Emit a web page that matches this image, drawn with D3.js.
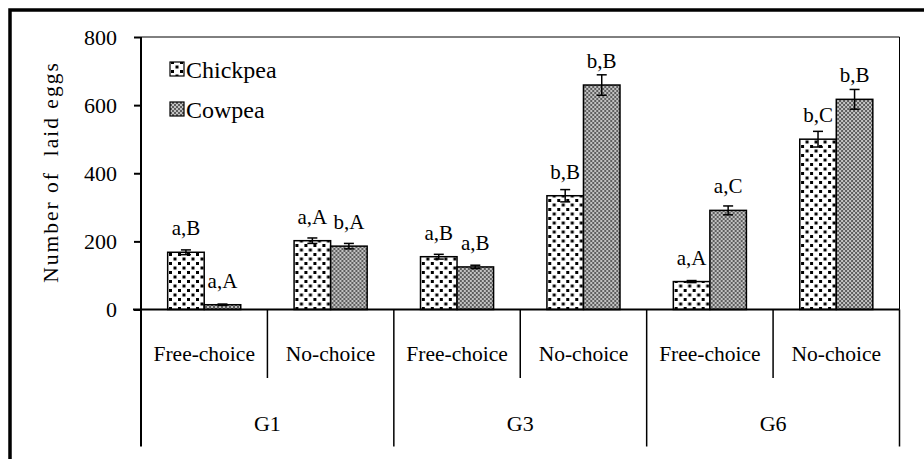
<!DOCTYPE html>
<html lang="en">
<head>
    <meta charset="UTF-8">
    <title>Number of laid eggs</title>
    <script src="https://d3js.org/d3.v7.min.js"></script>
    <style>
        body {
            margin: 0;
            background: #fff;
        }
        svg text {
            fill: #000;
            font-family: "Liberation Serif", "Tinos", "Times New Roman", "DejaVu Serif", serif;
        }
        .tick line {
            stroke: #000;
            stroke-width: 2px;
        }
        .y-axis .domain {
            display: none;
        }
    </style>
</head>
<body>
    <svg id="chart" width="924" height="459" font-family="Liberation Serif, serif"></svg>

    <script>
        // data
        const groups = ["G1", "G3", "G6"];
        const conditions = ["Free-choice", "No-choice"];
        const seriesNames = ["Chickpea", "Cowpea"];

        const chickpea = [168, 202, 155, 334, 82, 500];
        const cowpea = [14, 186, 125, 659, 291, 617];
        const chickpeaErr = [7, 8, 7, 18, 3, 23];
        const cowpeaErr = [2, 8, 5, 30, 13, 29];
        const chickpeaLabels = ["a,B", "a,A", "a,B", "b,B", "a,A", "b,C"];
        const cowpeaLabels = ["a,A", "b,A", "a,B", "b,B", "a,C", "b,B"];
        const yTicks = [0, 200, 400, 600, 800];

        const plot = {left: 141, right: 899.5, top: 37, bottom: 309.5};
        const subBottom = 378, groupBottom = 446.5;

        const svg = d3.select("#chart");

        // patterns
        const defs = svg.append("defs");
        const pChick = defs.append("pattern")
            .attr("id", "pat-chickpea")
            .attr("patternUnits", "userSpaceOnUse")
            .attr("width", 9).attr("height", 9);
        pChick.append("rect").attr("width", 9).attr("height", 9).attr("fill", "#fff");
        pChick.append("rect").attr("x", 1).attr("y", 1).attr("width", 3).attr("height", 3).attr("fill", "#000");
        pChick.append("rect").attr("x", 5.5).attr("y", 5.5).attr("width", 3).attr("height", 3).attr("fill", "#000");

        const pCow = defs.append("pattern")
            .attr("id", "pat-cowpea")
            .attr("patternUnits", "userSpaceOnUse")
            .attr("width", 4).attr("height", 4);
        pCow.append("rect").attr("width", 4).attr("height", 4).attr("fill", "#5e5e5e");
        pCow.append("rect").attr("x", 0).attr("y", 0).attr("width", 2).attr("height", 2).attr("fill", "#c2c2c2");
        pCow.append("rect").attr("x", 2).attr("y", 2).attr("width", 2).attr("height", 2).attr("fill", "#c2c2c2");

        const fills = ["url(#pat-chickpea)", "url(#pat-cowpea)"];

        // outer frame (only top and left show in the picture)
        svg.append("rect")
            .attr("x", 10).attr("y", 10)
            .attr("width", 940).attr("height", 480)
            .attr("fill", "none")
            .attr("stroke", "#000")
            .attr("stroke-width", 3.5);

        // scales
        const cats = [];
        groups.forEach(g => conditions.forEach(c => cats.push(g + "|" + c)));

        const x0 = d3.scaleBand()
            .domain(cats)
            .range([plot.left, plot.right]);

        const xg = d3.scaleBand()
            .domain(groups)
            .range([plot.left, plot.right]);

        const x1 = d3.scaleBand()
            .domain(seriesNames)
            .range([0, x0.bandwidth()])
            .paddingInner(0)
            .paddingOuter(0.73);

        const y = d3.scaleLinear()
            .domain([0, 800])
            .range([plot.bottom, plot.top]);

        // plot area border (top and right)
        svg.append("path")
            .attr("d", `M${plot.left},${plot.top}H${plot.right}V${plot.bottom}`)
            .attr("fill", "none")
            .attr("stroke", "#000")
            .attr("stroke-width", 1);

        // y axis
        svg.append("g")
            .attr("class", "y-axis")
            .attr("transform", `translate(${plot.left},0)`)
            .call(d3.axisLeft(y).tickValues(yTicks).tickSize(7).tickPadding(17))
            .attr("font-family", null)
            .call(g => g.selectAll(".tick text")
                .style("font-size", "22px"));

        // bars
        const rows = cats.map((c, i) => ({
            cat: c,
            items: [
                {name: seriesNames[0], v: chickpea[i], e: chickpeaErr[i], lab: chickpeaLabels[i], k: 0},
                {name: seriesNames[1], v: cowpea[i], e: cowpeaErr[i], lab: cowpeaLabels[i], k: 1}
            ]
        }));

        const cg = svg.selectAll(".cat")
            .data(rows)
            .enter()
            .append("g")
            .attr("class", "cat")
            .attr("transform", d => `translate(${x0(d.cat)},0)`);

        cg.selectAll("rect")
            .data(d => d.items)
            .enter()
            .append("rect")
            .attr("x", d => x1(d.name))
            .attr("y", d => y(d.v))
            .attr("width", x1.bandwidth())
            .attr("height", d => y(0) - y(d.v))
            .attr("fill", d => fills[d.k])
            .attr("stroke", "#000")
            .attr("stroke-width", 1.5);

        // error bars
        const eb = cg.selectAll(".err")
            .data(d => d.items)
            .enter()
            .append("g")
            .attr("class", "err")
            .attr("stroke", "#000")
            .attr("stroke-width", 1.5);

        const cx = d => x1(d.name) + x1.bandwidth() / 2;
        eb.append("line")
            .attr("x1", cx).attr("x2", cx)
            .attr("y1", d => y(d.v + d.e)).attr("y2", d => y(d.v - d.e));
        eb.append("line")
            .attr("x1", d => cx(d) - 5).attr("x2", d => cx(d) + 5)
            .attr("y1", d => y(d.v + d.e)).attr("y2", d => y(d.v + d.e));
        eb.append("line")
            .attr("x1", d => cx(d) - 5).attr("x2", d => cx(d) + 5)
            .attr("y1", d => y(d.v - d.e)).attr("y2", d => y(d.v - d.e));

        // letters above bars
        cg.selectAll(".lab")
            .data(d => d.items)
            .enter()
            .append("text")
            .attr("class", "lab")
            .attr("x", cx)
            .attr("y", d => y(d.v) - 17)
            .attr("text-anchor", "middle")
            .style("font-size", "21px")
            .text(d => d.lab);

        // x axis line
        svg.append("line")
            .attr("x1", plot.left - 8).attr("x2", plot.right)
            .attr("y1", plot.bottom).attr("y2", plot.bottom)
            .attr("stroke", "#000")
            .attr("stroke-width", 2);

        // category dividers
        const subLines = cats.filter((c, i) => i % 2 === 1).map(c => x0(c));
        svg.selectAll(".sub-line")
            .data(subLines)
            .enter()
            .append("line")
            .attr("x1", d => d).attr("x2", d => d)
            .attr("y1", plot.bottom).attr("y2", subBottom)
            .attr("stroke", "#000")
            .attr("stroke-width", 1.5);

        const groupLines = groups.map(g => xg(g)).concat([plot.right]);
        svg.selectAll(".group-line")
            .data(groupLines)
            .enter()
            .append("line")
            .attr("x1", d => d).attr("x2", d => d)
            .attr("y1", (d, i) => i === 0 ? plot.top : plot.bottom)
            .attr("y2", groupBottom)
            .attr("stroke", "#000")
            .attr("stroke-width", (d, i) => i === 0 ? 2 : 1.5);

        // category labels
        svg.selectAll(".cond-label")
            .data(cats)
            .enter()
            .append("text")
            .attr("x", d => x0(d) + x0.bandwidth() / 2)
            .attr("y", 361)
            .attr("text-anchor", "middle")
            .style("font-size", "21.5px")
            .text(d => d.split("|")[1]);

        svg.selectAll(".group-label")
            .data(groups)
            .enter()
            .append("text")
            .attr("x", d => xg(d) + xg.bandwidth() / 2)
            .attr("y", 431)
            .attr("text-anchor", "middle")
            .style("font-size", "22px")
            .text(d => d);

        // y axis title
        svg.append("text")
            .attr("transform", "translate(58,172) rotate(-90)")
            .attr("text-anchor", "middle")
            .style("font-size", "21.5px")
            .style("letter-spacing", "2px")
            .style("white-space", "pre")
            .text("Number of  laid eggs");

        // legend
        const leg = svg.selectAll(".legend")
            .data(seriesNames)
            .enter()
            .append("g")
            .attr("class", "legend")
            .attr("transform", (d, i) => `translate(170,${78 + i * 40})`);

        leg.append("rect")
            .attr("x", 0).attr("y", -16)
            .attr("width", 14).attr("height", 14)
            .attr("fill", (d, i) => fills[i])
            .attr("stroke", "#000")
            .attr("stroke-width", 1.2);

        leg.append("text")
            .attr("x", 16)
            .attr("y", 0)
            .style("font-size", "24px")
            .text(d => d);
    </script>
</body>
</html>
